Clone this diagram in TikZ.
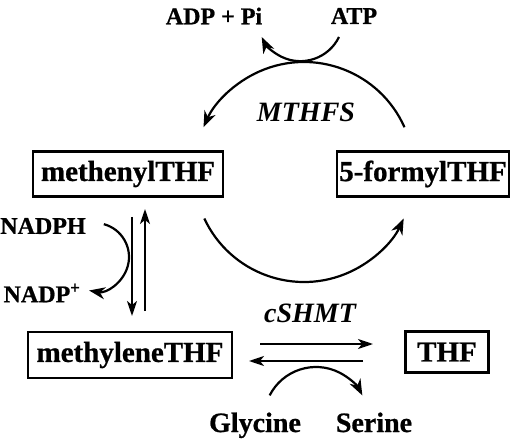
\documentclass[tikz,border=0pt]{standalone}
\usepackage{fontspec}
\setmainfont{Liberation Serif}[BoldFeatures={FakeBold=0.8}]
\usetikzlibrary{arrows.meta,calc}
\begin{document}
\begin{tikzpicture}[x=1pt,y=1pt,
  box/.style={draw,line width=2.4pt,inner sep=0pt,font=\fontsize{29}{29}\selectfont\bfseries},
  lbl/.style={inner sep=0pt,font=\fontsize{24}{24}\selectfont\bfseries},
  lblb/.style={inner sep=0pt,anchor=base,font=\fontsize{28}{28}\selectfont\bfseries},
  enz/.style={inner sep=0pt,font=\fontsize{28}{28}\selectfont\bfseries\itshape},
  arr/.style={line width=2.2pt,-{Stealth[length=16pt,width=12pt,inset=5pt]}},
  harr/.style={line width=1.8pt,-{Stealth[length=15pt,width=10pt,inset=4pt]}}]
\useasboundingbox (0,0) rectangle (520,440);
% nodes
\node[box,minimum width=190pt,minimum height=45pt] (methenyl) at (128,266) {methenylTHF};
\node[box,minimum width=172pt,minimum height=45pt] (formyl) at (423,266) {5-formylTHF};
\node[box,minimum width=204pt,minimum height=46pt] (methylene) at (130,85) {methyleneTHF};
\node[box,minimum width=83pt,minimum height=41pt] (thf) at (447,88) {THF};
\node[lbl] (adp) at (214,424) {ADP + Pi};
\node[lbl] (atp) at (354,424) {ATP};
\node[enz] (mthfs) at (306,328) {MTHFS};
\node[enz] (cshmt) at (310,127) {cSHMT};
\node[lblb] (gly) at (255,8) {Glycine};
\node[lblb] (ser) at (374,8) {Serine};
\node[lbl] (nadph) at (43,214) {NADPH};
\node[lbl] (nadp) at (42,147) {NADP\textsuperscript{+}};
% MTHFS cycle (circle centre (304,268), r=110)
\coordinate (cc) at (304,268);
\coordinate (topstart) at ($(cc)+(24:110)$);
\coordinate (botstart) at ($(cc)+(205:110)$);
\draw[arr] (topstart) arc[start angle=24,end angle=156,radius=110];
\draw[arr] (botstart) arc[start angle=205,end angle=335,radius=110];
% ATP -> ADP + Pi
\coordinate (atpstart) at (339,403);
\draw[arr] (atpstart) arc[start angle=-26,end angle=-154,radius=43];
% vertical reversible arrows
\coordinate (d1) at (132,223);
\coordinate (d2) at (132,124);
\coordinate (u1) at (145,129);
\coordinate (u2) at (145,231);
\draw[harr] (d1) -- (d2);
\draw[harr] (u1) -- (u2);
% NADPH -> NADP+
\coordinate (nstart) at ($(95,183)+(75:34)$);
\draw[arr] (nstart) arc[start angle=75,end angle=-100,radius=34];
% cSHMT reversible arrows
\coordinate (r1) at (260,96);
\coordinate (r2) at (373,96);
\coordinate (l1) at (363,79);
\coordinate (l2) at (249,79);
\draw[harr] (r1) -- (r2);
\draw[harr] (l1) -- (l2);
% Glycine -> Serine
\coordinate (gstart) at ($(316,21)+(153:52)$);
\draw[arr] (gstart) arc[start angle=153,end angle=27,radius=52];
\end{tikzpicture}
\end{document}
